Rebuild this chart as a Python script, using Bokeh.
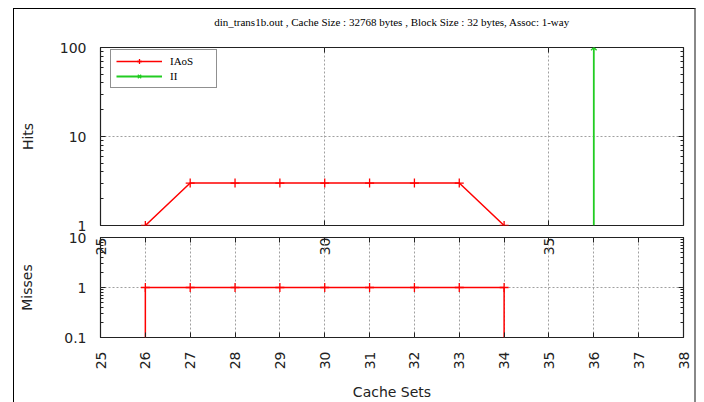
from math import pi
from bokeh.plotting import figure
from bokeh.layouts import column
from bokeh.models import FixedTicker, LinearAxis, LogAxis, Legend, LegendItem, Range1d
from bokeh.embed import file_html
from bokeh.resources import INLINE

title_text = "din_trans1b.out , Cache Size : 32768 bytes , Block Size : 32 bytes, Assoc: 1-way"
cache_sets = [26, 27, 28, 29, 30, 31, 32, 33, 34]
iaos_hits = [1, 3, 3, 3, 3, 3, 3, 3, 1]
iaos_misses = [1, 1, 1, 1, 1, 1, 1, 1, 1]
ii_sets = [36]
ii_hits = [100]
x_ticks_all = list(range(25, 39))
x_ticks_top = [25, 30, 35]
hits_ticks = [1, 10, 100]
misses_ticks = [0.1, 1, 10]
hits_minor = [m * d for d in (1, 10) for m in range(2, 10)]
misses_minor = [m * d for d in (0.1, 1) for m in range(2, 10)]

RED = "#ff0000"
GREEN = "#22cc22"
INK = "#222222"
GRID = "#a0a0a0"
FONT = "DejaVu Sans"


def style_axis(ax, show_labels=True):
    ax.axis_line_color = None
    ax.major_tick_in = 5
    ax.major_tick_out = 0
    ax.minor_tick_in = 3
    ax.minor_tick_out = 0
    ax.major_tick_line_color = INK
    ax.minor_tick_line_color = INK
    ax.major_label_text_font = FONT
    ax.major_label_text_color = INK
    ax.axis_label_text_font = FONT
    ax.axis_label_text_font_style = "normal"
    ax.axis_label_text_font_size = "14px"
    ax.axis_label_text_color = INK
    if show_labels:
        ax.major_label_text_font_size = "14px"
    else:
        ax.major_label_text_font_size = "1px"
        ax.major_label_text_alpha = 0
        ax.major_label_standoff = 0


x_range = Range1d(25, 38)

# ---------------- top panel: Hits ----------------
p1 = figure(width=680, height=249, x_range=x_range, y_range=Range1d(1, 100),
            y_axis_type="log", output_backend="svg", toolbar_location=None,
            min_border_left=86, min_border_right=11, min_border_top=38, min_border_bottom=32)
p1.title.text = title_text + "\n"
p1.title.align = "center"
p1.title.vertical_align = "top"
p1.title.text_font = "Liberation Serif"
p1.title.text_font_style = "normal"
p1.title.text_font_size = "11px"
p1.title.text_color = "#000000"
p1.title.standoff = 12
p1.outline_line_color = INK
p1.outline_line_width = 1.2

xt1 = FixedTicker(ticks=x_ticks_top, minor_ticks=[])
yt1 = FixedTicker(ticks=hits_ticks, minor_ticks=hits_minor)
p1.xaxis.ticker = xt1
p1.yaxis.ticker = yt1
p1.xaxis.major_label_orientation = pi / 2
p1.xaxis.major_label_standoff = 12
p1.yaxis.major_label_overrides = {1: "1", 10: "10", 100: "100"}
p1.yaxis.major_label_standoff = 14
p1.yaxis.axis_label = "Hits"
p1.yaxis.axis_label_standoff = 21
for ax in p1.xaxis + p1.yaxis:
    style_axis(ax)
ax_top = LinearAxis(ticker=xt1)
style_axis(ax_top, False)
p1.add_layout(ax_top, "above")
ax_right = LogAxis(ticker=yt1)
style_axis(ax_right, False)
p1.add_layout(ax_right, "right")

p1.xgrid.ticker = xt1
p1.ygrid.ticker = FixedTicker(ticks=hits_ticks)
for g in (p1.xgrid[0], p1.ygrid[0]):
    g.grid_line_color = GRID
    g.grid_line_dash = "2 2"

r_line = p1.line(cache_sets, iaos_hits, line_color=RED, line_width=1.5)
r_pts = p1.scatter(cache_sets, iaos_hits, marker="cross", size=9, line_color=RED, line_width=1.3)
base1 = [p1.y_range.start] * len(ii_sets)
g_seg = p1.segment(x0=ii_sets, y0=base1, x1=ii_sets, y1=ii_hits, line_color=GREEN, line_width=1.8)
g_pts = p1.scatter(ii_sets, ii_hits, marker="x", size=8, line_color=GREEN, line_width=1.3)

legend = Legend(items=[LegendItem(label="IAoS", renderers=[r_line, r_pts]),
                       LegendItem(label="II", renderers=[g_seg, g_pts])],
                location=(10, 137))
legend.label_text_font = "Liberation Serif"
legend.label_text_font_size = "11px"
legend.label_text_color = "#000000"
legend.border_line_color = INK
legend.border_line_width = 1.2
legend.glyph_width = 46
legend.glyph_height = 12
legend.label_width = 41
legend.padding = 5
legend.spacing = 3
legend.margin = 0
legend.label_standoff = 8
legend.background_fill_alpha = 1
p1.add_layout(legend)

# ---------------- bottom panel: Misses ----------------
p2 = figure(width=680, height=171, x_range=x_range, y_range=Range1d(0.1, 10),
            y_axis_type="log", output_backend="svg", toolbar_location=None,
            min_border_left=86, min_border_right=11, min_border_top=5, min_border_bottom=64,
            margin=(-26, 0, 0, 0))
p2.border_fill_color = None
p2.background_fill_color = None
p2.outline_line_color = INK
p2.outline_line_width = 1.2

xt2 = FixedTicker(ticks=x_ticks_all, minor_ticks=[])
yt2 = FixedTicker(ticks=misses_ticks, minor_ticks=misses_minor)
p2.xaxis.ticker = xt2
p2.yaxis.ticker = yt2
p2.xaxis.major_label_orientation = pi / 2
p2.xaxis.major_label_standoff = 14
p2.xaxis.axis_label = "Cache Sets"
p2.xaxis.axis_label_standoff = 12
p2.yaxis.major_label_overrides = {0.1: "0.1", 1: "1", 10: "10"}
p2.yaxis.major_label_standoff = 14
p2.yaxis.axis_label = "Misses"
p2.yaxis.axis_label_standoff = 26
for ax in p2.xaxis + p2.yaxis:
    style_axis(ax)
ax_top2 = LinearAxis(ticker=xt2)
style_axis(ax_top2, False)
p2.add_layout(ax_top2, "above")
ax_right2 = LogAxis(ticker=yt2)
style_axis(ax_right2, False)
p2.add_layout(ax_right2, "right")

p2.xgrid.ticker = xt2
p2.ygrid.ticker = FixedTicker(ticks=misses_ticks)
for g in (p2.xgrid[0], p2.ygrid[0]):
    g.grid_line_color = GRID
    g.grid_line_dash = "2 2"

p2.line(cache_sets, iaos_misses, line_color=RED, line_width=1.5)
ends_x = [cache_sets[0], cache_sets[-1]]
ends_y = [iaos_misses[0], iaos_misses[-1]]
p2.segment(x0=ends_x, y0=[p2.y_range.start] * 2, x1=ends_x, y1=ends_y, line_color=RED, line_width=1.5)
p2.scatter(cache_sets, iaos_misses, marker="cross", size=9, line_color=RED, line_width=1.3)

layout = column(p1, p2, margin=(8, 0, 0, 13),
                styles={"border-top": "1px solid #000", "border-left": "1px solid #000",
                        "border-right": "2px solid #888"})

open("out.html", "w").write(file_html(layout, INLINE))
